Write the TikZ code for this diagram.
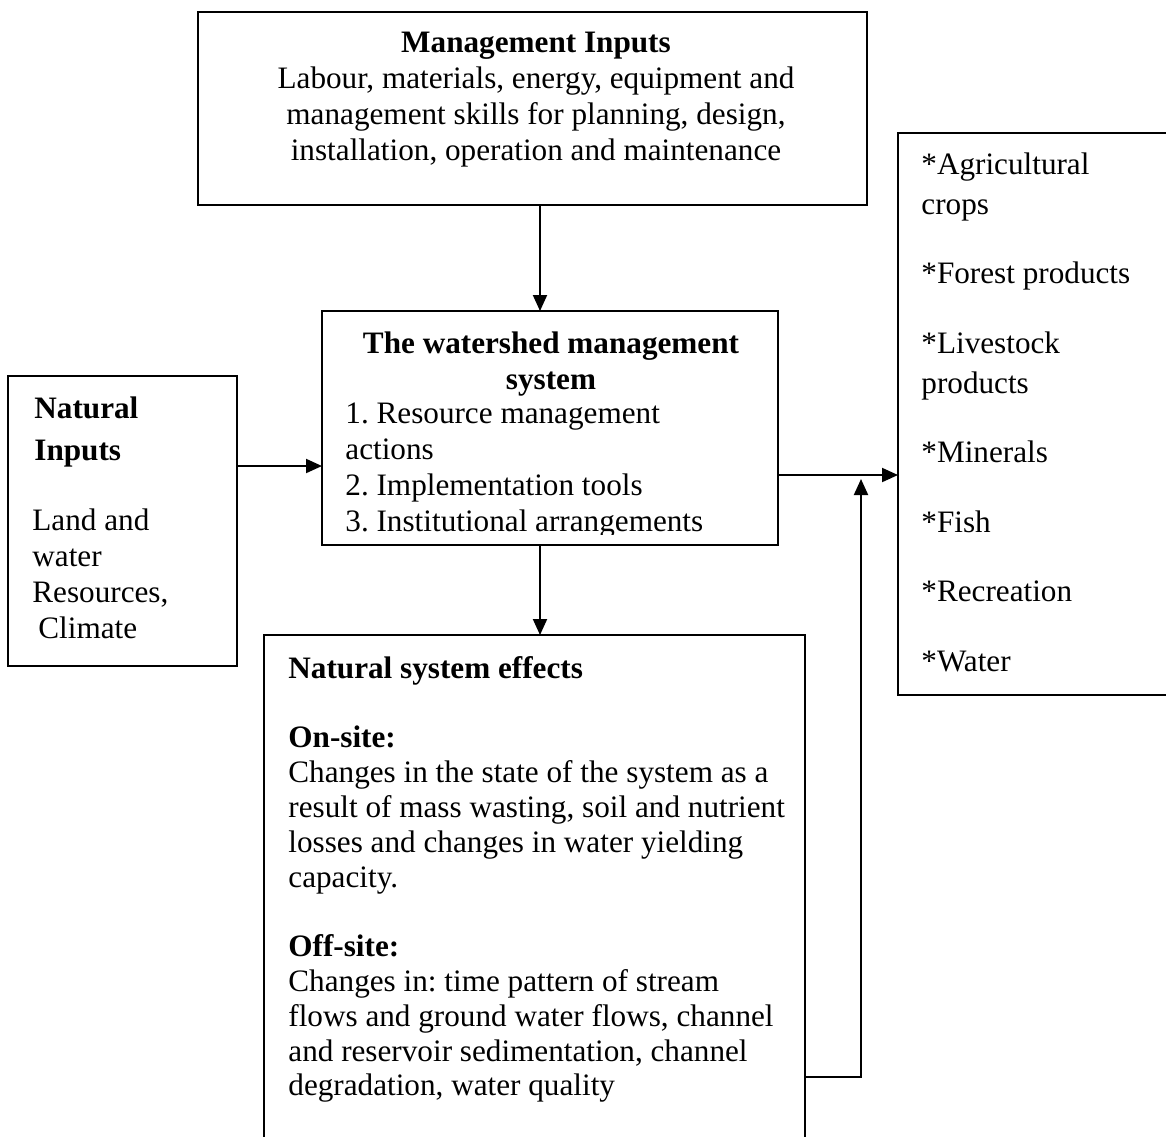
\documentclass[tikz,border=0pt]{standalone}
\usepackage{fontspec}
\setmainfont{Liberation Serif}
\frenchspacing
\usetikzlibrary{arrows.meta}
\tikzset{
  box/.style={draw, line width=1pt, outer sep=0pt, inner sep=0pt, anchor=north west},
  txt/.style={inner sep=0pt, font=\fontsize{15.6}{18}\selectfont},
  flow/.style={line width=1pt, -{Triangle[length=8pt,width=7pt]}}
}
\begin{document}
\begin{tikzpicture}[x=0.5pt,y=-0.5pt]
    \useasboundingbox (0,0) rectangle (1166,1136);

    % boxes
    \node[box, minimum width=334.5pt, minimum height=96.5pt] (mgmt) at (198,12) {};
    \node[box, minimum width=228pt, minimum height=117pt] (ws) at (322,311) {};
    \node[box, minimum width=114.5pt, minimum height=145pt] (nat) at (8,376) {};
    \node[box, minimum width=270.5pt, minimum height=262pt] (eff) at (264,635) {};
    \node[box, minimum width=145pt, minimum height=281pt] (out) at (898,133) {};

    % texts
    \node[txt, anchor=north, align=center] (mgmttxt) at (536,32)
        {\textbf{Management Inputs}\\Labour, materials, energy, equipment and\\
         management skills for planning, design,\\installation, operation and maintenance};
    \node[txt, anchor=north, align=center] (wstitle) at (551,331)
        {\textbf{The watershed management}\\\textbf{system}};
    \begin{scope}
        \clip (322,311) rectangle (778,534);
        \node[txt, anchor=north west, align=left] (wslist) at (345,402)
            {1. Resource management\\actions\\2. Implementation tools\\3. Institutional arrangements};
    \end{scope}
    \node[txt, anchor=north west, align=left, font=\fontsize{15.6}{21}\selectfont\bfseries] (nattitle) at (34,396)
        {Natural\\Inputs};
    \node[txt, anchor=north west, align=left] (nattxt) at (32,508)
        {Land and\\water\\Resources,\\\hspace{3pt}Climate};
    \node[txt, anchor=north west, align=left, font=\fontsize{15.6}{17.4}\selectfont] (efftxt) at (288,656)
        {\textbf{Natural system effects}\\[17.4pt]
         \textbf{On-site:}\\Changes in the state of the system as a\\
         result of mass wasting, soil and nutrient\\losses and changes in water yielding\\capacity.\\[17.4pt]
         \textbf{Off-site:}\\Changes in: time pattern of stream\\flows and ground water flows, channel\\
         and reservoir sedimentation, channel\\degradation, water quality};
    \node[txt, anchor=north west, align=left, font=\fontsize{15.6}{20}\selectfont] (outtxt) at (921,152)
        {*Agricultural\\crops\\[14.75pt]*Forest products\\[14.75pt]*Livestock\\products\\[14.75pt]
         *Minerals\\[14.75pt]*Fish\\[14.75pt]*Recreation\\[14.75pt]*Water};

    % connectors
    \coordinate (vx) at (540,0);
    \coordinate (hin) at (0,466);
    \coordinate (hout) at (0,475);
    \coordinate (fb) at (861,1077);
    \coordinate (fbtop) at (861,479);
    \draw[flow] (mgmt.south -| vx) -- (ws.north -| vx);
    \draw[flow] (ws.south -| vx) -- (eff.north -| vx);
    \draw[flow] (nat.east |- hin) -- (ws.west |- hin);
    \draw[flow] (ws.east |- hout) -- (out.west |- hout);
    \draw[flow] (eff.east |- fb) -- (fb) -- (fbtop);
\end{tikzpicture}
\end{document}
